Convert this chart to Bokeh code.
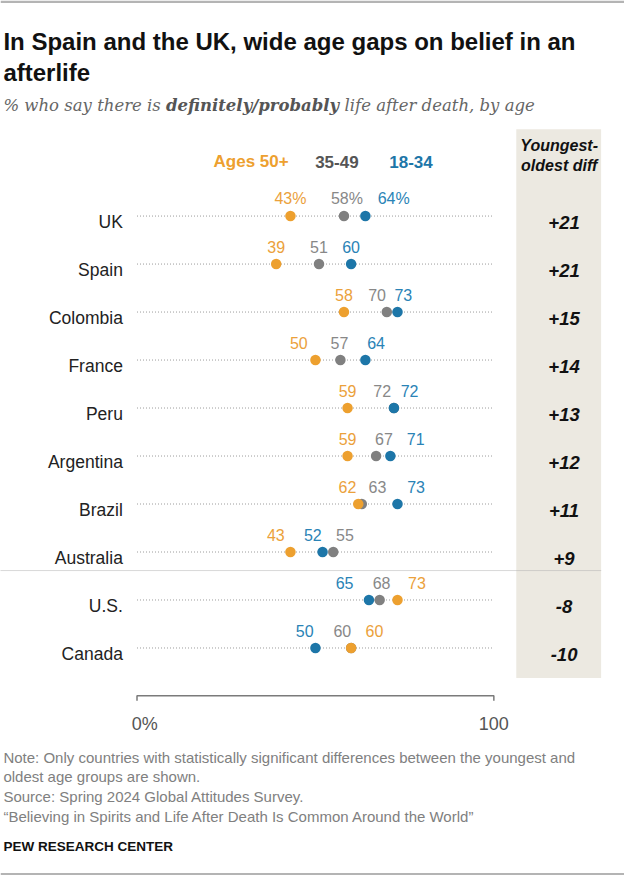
from bokeh.plotting import figure
from bokeh.models import Range1d
from bokeh.core.properties import value
from bokeh.embed import file_html
from bokeh.resources import INLINE

# ---------------- data ----------------
countries = ["UK", "Spain", "Colombia", "France", "Peru", "Argentina",
             "Brazil", "Australia", "U.S.", "Canada"]
ages_50_plus = [43, 39, 58, 50, 59, 59, 62, 43, 73, 60]
ages_35_49 = [58, 51, 70, 57, 72, 67, 63, 55, 68, 60]
ages_18_34 = [64, 60, 73, 64, 72, 71, 73, 52, 65, 50]
diff_labels = ["+21", "+21", "+15", "+14", "+13", "+12", "+11", "+9", "-8", "-10"]
legend_labels = ["Ages 50+", "35-49", "18-34"]
axis_ticks = [0, 100]
axis_tick_labels = ["0%", "100"]

# label nudges (pixels) to avoid overlaps, as in the original
nudge_50 = [0, 0, 0, -17, 0, 0, -11, -15, 20, 24]
nudge_35 = [3, 0, -10, -1, -12, 8, 16, 12, 2, -9]
nudge_18 = [29, 0, 6, 11, 16, 26, 19, -10, -25, -11]

# ---------------- geometry (in 640x891 reference pixels) ----------------
W, H = 624, 875
REF_W, REF_H = 640, 891
X0, XK = 140.0, 3.66          # pixel of 0 %, pixels per point
ROW0, ROWH = 219.5, 48.87     # pixel of first row, row spacing


def dx(px):
    return (px - X0) / XK


def dy(py):
    return (py - ROW0) / ROWH


ORANGE = "#EDA02F"
GRAY = "#808080"
BLUE = "#1D76A8"
ORANGE_T = "#EBA13B"
GRAY_T = "#888888"
BLUE_T = "#2A83B6"
SANS = value("Liberation Sans")
SERIF = value("DejaVu Serif")

p = figure(width=W, height=H, x_range=Range1d(dx(0), dx(REF_W)),
           y_range=Range1d(dy(REF_H), dy(0)),
           x_axis_type=None, y_axis_type=None, output_backend="svg",
           toolbar_location=None, min_border=0)
p.grid.visible = False
p.outline_line_color = None
p.background_fill_color = "white"
p.border_fill_color = "white"

rows = list(range(len(countries)))
n = len(rows)

# frame lines top / bottom
p.segment(x0=[dx(0), dx(0)], x1=[dx(REF_W), dx(REF_W)],
          y0=[dy(1.2), dy(REF_H - 1.2)], y1=[dy(1.2), dy(REF_H - 1.2)],
          line_color="#b4b4b4", line_width=2.5)

# difference column background
p.quad(left=[dx(529)], right=[dx(616)], top=[dy(131)], bottom=[dy(690)],
       fill_color="#ECE9E1", line_color=None)

# row guide lines
p.segment(x0=[axis_ticks[0]] * n, x1=[axis_ticks[-1]] * n, y0=rows, y1=rows,
          line_color="#9c9c9c", line_width=1, line_dash="1 2")

# separator between positive and negative gaps
sep = dy(580.5)
p.segment(x0=[dx(0)], x1=[dx(616)], y0=[sep], y1=[sep],
          line_color="#b0b0b0", line_width=1, line_dash="1 1")

# dots
p.scatter(x=ages_35_49, y=rows, size=10.5, fill_color=GRAY, line_color=None)
p.scatter(x=ages_50_plus, y=rows, size=10.5, fill_color=ORANGE, line_color=None)
p.scatter(x=ages_18_34, y=rows, size=10.5, fill_color=BLUE, line_color=None)

# value labels
lab_dy = -17.6 / ROWH
for vals, nud, col in [(ages_50_plus, nudge_50, ORANGE_T),
                       (ages_35_49, nudge_35, GRAY_T),
                       (ages_18_34, nudge_18, BLUE_T)]:
    txt = [f"{v}%" if i == 0 else str(v) for i, v in enumerate(vals)]
    p.text(x=[v + d / XK for v, d in zip(vals, nud)],
           y=[r + lab_dy for r in rows], text=txt,
           text_align="center", text_baseline="alphabetic",
           text_font=SANS, text_font_size="16px", text_color=col)

# legend header
p.text(x=[dx(257), dx(345), dx(421)], y=[dy(164)] * 3, text=legend_labels,
       text_align="center", text_baseline="alphabetic", text_font=SANS,
       text_font_size="17px", text_font_style="bold",
       text_color=[ORANGE, "#555555", BLUE])

# country labels
p.text(x=[dx(125.5)] * n, y=[r + 6.5 / ROWH for r in rows], text=countries,
       text_align="right", text_baseline="alphabetic", text_font=SANS,
       text_font_size="17.5px", text_color="#222222")

# diff column
p.text(x=[dx(573)] * 2, y=[dy(148), dy(168)], text=["Youngest-", "oldest diff"],
       text_align="center", text_baseline="alphabetic", text_font=SANS,
       text_font_size="16px", text_font_style="bold italic", text_color="#111111")
p.text(x=[dx(578)] * n, y=[r + 7 / ROWH for r in rows], text=diff_labels,
       text_align="center", text_baseline="alphabetic", text_font=SANS,
       text_font_size="18.5px", text_font_style="bold italic", text_color="#111111")

# axis bracket
ay, tick_len = dy(708), 5 / ROWH
p.line(x=[axis_ticks[0], axis_ticks[0], axis_ticks[-1], axis_ticks[-1]],
       y=[ay + tick_len, ay, ay, ay + tick_len], line_color="#7a7a7a", line_width=1.5)
p.text(x=[axis_ticks[0] + 8 / XK, axis_ticks[-1]], y=[dy(736.5)] * 2,
       text=axis_tick_labels, text_align="center", text_baseline="alphabetic",
       text_font=SANS, text_font_size="18px", text_color="#555555")

# title
p.text(x=[dx(3)] * 2, y=[dy(41.5), dy(73.5)],
       text=["In Spain and the UK, wide age gaps on belief in an", "afterlife"],
       text_align="left", text_baseline="alphabetic", text_font=SANS,
       text_font_size="24px", text_font_style="bold", text_color="#111111")

# subtitle (three runs)
p.text(x=[dx(3)], y=[dy(107)], text=["% who say there is"], text_align="left",
       text_baseline="alphabetic", text_font=SERIF, text_font_size="16.5px",
       text_font_style="italic", text_color="#666666")
p.text(x=[dx(169.7)], y=[dy(107)], text=["definitely/probably"], text_align="left",
       text_baseline="alphabetic", text_font=SERIF, text_font_size="16.5px",
       text_font_style="bold italic", text_color="#555555")
p.text(x=[dx(352.8)], y=[dy(107)], text=["life after death, by age"], text_align="left",
       text_baseline="alphabetic", text_font=SERIF, text_font_size="16.5px",
       text_font_style="italic", text_color="#666666")

# notes
notes = ["Note: Only countries with statistically significant differences between the youngest and",
         "oldest age groups are shown.",
         "Source: Spring 2024 Global Attitudes Survey.",
         "\u201cBelieving in Spirits and Life After Death Is Common Around the World\u201d"]
p.text(x=[dx(3)] * 4, y=[dy(770.5), dy(790.5), dy(810.5), dy(830.5)], text=notes,
       text_align="left", text_baseline="alphabetic", text_font=SANS,
       text_font_size="15px", text_color="#808080")
p.text(x=[dx(3)], y=[dy(861.5)], text=["PEW RESEARCH CENTER"], text_align="left",
       text_baseline="alphabetic", text_font=SANS, text_font_size="13.5px",
       text_font_style="bold", text_color="#111111")

open("out.html", "w").write(file_html(p, INLINE))
